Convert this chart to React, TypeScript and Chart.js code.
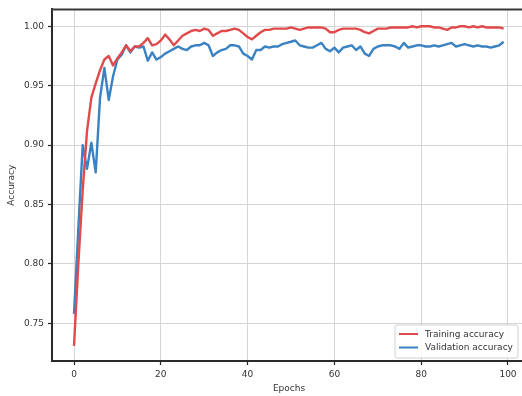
import React, { useEffect, useRef } from 'react';
import { Chart, registerables } from 'chart.js';

Chart.register(...registerables);

const epochs: number[] = Array.from({ length: 100 }, (_, i) => i);

const trainingAcc: number[] = [
  0.731, 0.800, 0.862, 0.912, 0.940, 0.952, 0.963, 0.972, 0.975, 0.967,
  0.973, 0.978, 0.984, 0.979, 0.983, 0.983, 0.986, 0.990, 0.984, 0.985,
  0.988, 0.993, 0.989, 0.984, 0.988, 0.992, 0.994, 0.996, 0.997, 0.996,
  0.998, 0.997, 0.992, 0.994, 0.996, 0.996, 0.997, 0.998, 0.997, 0.994,
  0.991, 0.989, 0.992, 0.995, 0.997, 0.997, 0.998, 0.998, 0.998, 0.998,
  0.999, 0.998, 0.997, 0.998, 0.999, 0.999, 0.999, 0.999, 0.998, 0.995,
  0.995, 0.997, 0.998, 0.998, 0.998, 0.998, 0.997, 0.995, 0.994, 0.996,
  0.998, 0.998, 0.998, 0.999, 0.999, 0.999, 0.999, 0.999, 1.000, 0.999,
  1.000, 1.000, 1.000, 0.999, 0.999, 0.998, 0.997, 0.999, 0.999, 1.000,
  1.000, 0.999, 1.000, 0.999, 1.000, 0.999, 0.999, 0.999, 0.999, 0.998,
];

const validationAcc: number[] = [
  0.758, 0.830, 0.900, 0.880, 0.902, 0.877, 0.940, 0.965, 0.938, 0.958,
  0.972, 0.976, 0.984, 0.978, 0.983, 0.982, 0.983, 0.971, 0.978, 0.972,
  0.974, 0.977, 0.979, 0.981, 0.983, 0.981, 0.980, 0.983, 0.984, 0.984,
  0.986, 0.984, 0.975, 0.978, 0.980, 0.981, 0.984, 0.984, 0.983, 0.977,
  0.975, 0.972, 0.980, 0.980, 0.983, 0.982, 0.983, 0.983, 0.985, 0.986,
  0.987, 0.988, 0.984, 0.983, 0.982, 0.982, 0.984, 0.986, 0.981, 0.979,
  0.982, 0.978, 0.982, 0.983, 0.984, 0.980, 0.983, 0.977, 0.975, 0.981,
  0.983, 0.984, 0.984, 0.984, 0.983, 0.981, 0.986, 0.982, 0.983, 0.984,
  0.984, 0.983, 0.983, 0.984, 0.983, 0.984, 0.985, 0.986, 0.983, 0.984,
  0.985, 0.984, 0.983, 0.984, 0.983, 0.983, 0.982, 0.983, 0.984, 0.987,
];

const xTicks: number[] = [0, 20, 40, 60, 80, 100];
const yTicks: number[] = [0.75, 0.8, 0.85, 0.9, 0.95, 1.0];

const seriesLabels = ['Training accuracy', 'Validation accuracy'];
const seriesColors = ['#e14a4a', '#3b82c2'];

const FONT = 'DejaVu Sans';

const framePlugin = {
  id: 'frameAndLegend',
  afterDraw(chart: any) {
    const { ctx, chartArea } = chart;
    ctx.save();
    // top spine
    ctx.strokeStyle = '#3a3a3a';
    ctx.lineWidth = 2;
    ctx.beginPath();
    ctx.moveTo(chartArea.left - 1, chartArea.top);
    ctx.lineTo(chartArea.right + 2, chartArea.top);
    ctx.stroke();

    // legend box (lower right)
    const bx = 395, by = 325, bw = 123, bh = 33;
    ctx.fillStyle = 'rgba(255,255,255,0.85)';
    ctx.strokeStyle = '#d0d0d0';
    ctx.lineWidth = 1;
    ctx.beginPath();
    const r = 2;
    ctx.moveTo(bx + r, by);
    ctx.lineTo(bx + bw - r, by);
    ctx.quadraticCurveTo(bx + bw, by, bx + bw, by + r);
    ctx.lineTo(bx + bw, by + bh - r);
    ctx.quadraticCurveTo(bx + bw, by + bh, bx + bw - r, by + bh);
    ctx.lineTo(bx + r, by + bh);
    ctx.quadraticCurveTo(bx, by + bh, bx, by + bh - r);
    ctx.lineTo(bx, by + r);
    ctx.quadraticCurveTo(bx, by, bx + r, by);
    ctx.fill();
    ctx.stroke();

    chart.data.datasets.forEach((ds: any, i: number) => {
      const y = by + 9 + i * 13.5;
      ctx.strokeStyle = ds.borderColor;
      ctx.lineWidth = 2;
      ctx.beginPath();
      ctx.moveTo(bx + 4, y);
      ctx.lineTo(bx + 23, y);
      ctx.stroke();
      ctx.fillStyle = '#333';
      ctx.font = `9px "${FONT}"`;
      ctx.textBaseline = 'middle';
      ctx.textAlign = 'left';
      ctx.fillText(ds.label, bx + 30, y + 0.5);
    });
    ctx.restore();
  },
};

export default function App() {
  const canvasRef = useRef<HTMLCanvasElement | null>(null);

  useEffect(() => {
    const canvas = canvasRef.current;
    if (!canvas) return;
    const chart = new Chart(canvas, {
      type: 'line',
      data: {
        datasets: [trainingAcc, validationAcc].map((vals, k) => ({
          label: seriesLabels[k],
          data: epochs.map((e, i) => ({ x: e, y: vals[i] })),
          borderColor: seriesColors[k],
          backgroundColor: seriesColors[k],
          borderWidth: 2.4,
          pointRadius: 0,
          tension: 0,
          borderJoinStyle: 'round' as const,
          fill: false,
        })),
      },
      options: {
        responsive: false,
        animation: false,
        layout: { padding: { top: 6, right: 1, left: 0, bottom: 0 } },
        plugins: {
          legend: { display: false },
          tooltip: { enabled: false },
        },
        scales: {
          x: {
            type: 'linear',
            min: -5.07,
            max: 104.15,
            afterBuildTicks: (scale: any) => {
              scale.ticks = xTicks.map((v) => ({ value: v }));
            },
            afterFit: (scale: any) => {
              scale.height = 35;
            },
            grid: {
              color: '#d4d4d4',
              lineWidth: 1,
              tickColor: '#222',
              tickLength: 4,
              tickWidth: 1.2,
            },
            border: { display: true, color: '#2a2a2a', width: 2 },
            ticks: {
              color: '#333',
              font: { family: FONT, size: 9 },
              padding: 4,
              maxRotation: 0,
              callback: (v: any) => String(v),
            },
            title: {
              display: true,
              text: 'Epochs',
              color: '#333',
              font: { family: FONT, size: 9 },
              padding: { top: 0, bottom: 2 },
            },
          },
          y: {
            type: 'linear',
            min: 0.7183,
            max: 1.0142,
            afterBuildTicks: (scale: any) => {
              scale.ticks = yTicks.map((v) => ({ value: v }));
            },
            afterFit: (scale: any) => {
              scale.width = 52;
            },
            grid: {
              color: '#d4d4d4',
              lineWidth: 1,
              tickColor: '#222',
              tickLength: 4,
              tickWidth: 1.2,
            },
            border: { display: true, color: '#2a2a2a', width: 2 },
            ticks: {
              color: '#333',
              font: { family: FONT, size: 9 },
              padding: 4,
              callback: (v: any) => Number(v).toFixed(2),
            },
            title: {
              display: true,
              text: 'Accuracy',
              color: '#333',
              font: { family: FONT, size: 9 },
              padding: { top: 6, bottom: 0 },
            },
          },
        },
      },
      plugins: [framePlugin],
    });
    return () => chart.destroy();
  }, []);

  return (
    <div style={{ position: 'fixed', left: 0, top: 0, width: 522, height: 396, overflow: 'hidden', background: '#fff' }}>
      <canvas ref={canvasRef} width={527} height={396} style={{ display: 'block' }} />
    </div>
  );
}
